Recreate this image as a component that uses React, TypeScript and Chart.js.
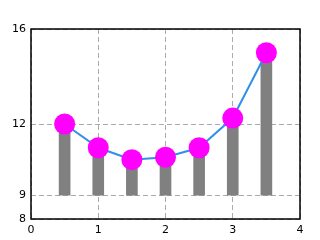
import React, { useEffect, useRef } from "react";
import { Chart, registerables } from "chart.js";

Chart.register(...registerables);

const xPositions = [0.5, 1, 1.5, 2, 2.5, 3, 3.5];
const values = [12, 11, 10.5, 10.6, 11, 12.25, 15];
const barBase = 9;
const yTickValues = [8, 9, 12, 16];
const xTickValues = [0, 1, 2, 3, 4];

const framePlugin = {
  id: "frame",
  afterDraw(chart: any) {
    const { ctx, chartArea } = chart;
    ctx.save();
    ctx.strokeStyle = "#000";
    ctx.lineWidth = 1.5;
    ctx.setLineDash([]);
    ctx.strokeRect(chartArea.left, chartArea.top, chartArea.right - chartArea.left, chartArea.bottom - chartArea.top);
    ctx.restore();
  },
};

export default function App() {
  const ref = useRef<HTMLCanvasElement>(null);
  useEffect(() => {
    const canvas = ref.current;
    if (!canvas) return;
    const font = { family: "'DejaVu Sans', sans-serif", size: 11 };
    const chart = new Chart(canvas, {
      data: {
        datasets: [
          {
            type: "line",
            data: xPositions.map((x, i) => ({ x, y: values[i] })),
            borderColor: "#3090e8",
            borderWidth: 2,
            pointRadius: 10.5,
            pointBackgroundColor: "#ff00ff",
            pointBorderWidth: 0,
            pointBorderColor: "#ff00ff",
            tension: 0,
            order: 0,
          } as any,
          {
            type: "bar",
            data: xPositions.map((x, i) => ({ x, y: [barBase, values[i]] })),
            backgroundColor: "#808080",
            barThickness: 11,
            borderWidth: 0,
            order: 1,
          } as any,
        ],
      },
      options: {
        animation: false,
        responsive: false,
        maintainAspectRatio: false,
        layout: { padding: { top: 29, right: 20, left: 0, bottom: 0 } },
        plugins: { legend: { display: false }, tooltip: { enabled: false } },
        scales: {
          x: {
            type: "linear",
            min: 0,
            max: 4,
            offset: false,
            afterBuildTicks: (s: any) => {
              s.ticks = xTickValues.map((v) => ({ value: v }));
            },
            afterFit: (s: any) => {
              s.height = 21;
            },
            grid: { color: "#aaa", lineWidth: 1, drawTicks: false, offset: false },
            border: { display: false, dash: [5, 3] },
            ticks: { color: "#000", font, padding: 5, maxRotation: 0 },
          },
          y: {
            type: "linear",
            min: 8,
            max: 16,
            afterBuildTicks: (s: any) => {
              s.ticks = yTickValues.map((v) => ({ value: v }));
            },
            afterFit: (s: any) => {
              s.width = 31;
            },
            grid: { color: "#aaa", lineWidth: 1, drawTicks: false },
            border: { display: false, dash: [5, 3] },
            ticks: { color: "#000", font, padding: 5 },
          },
        },
      } as any,
      plugins: [framePlugin],
    });
    return () => chart.destroy();
  }, []);
  return (
    <div style={{ position: "absolute", left: 0, top: 0, width: 320, height: 240, background: "#fff" }}>
      <canvas ref={ref} width={320} height={240} style={{ width: 320, height: 240 }} />
    </div>
  );
}
